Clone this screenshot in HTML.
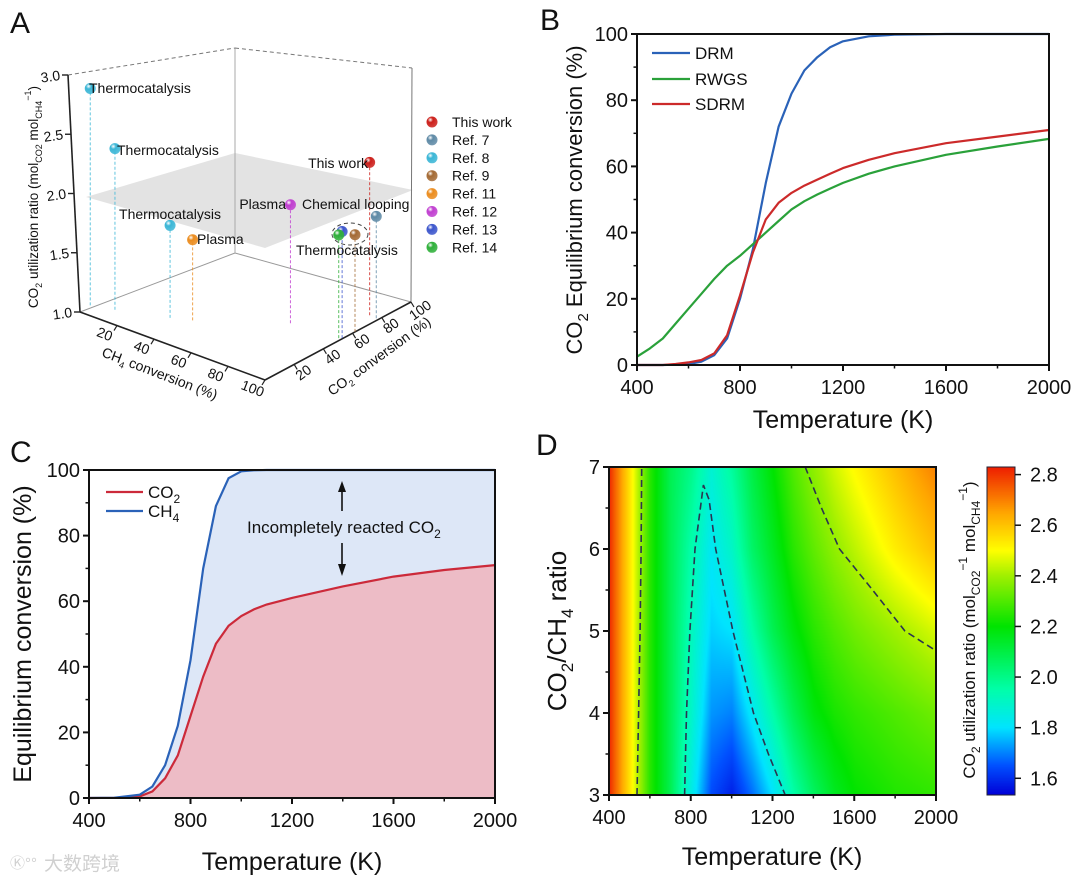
<!DOCTYPE html>
<html><head><meta charset="utf-8">
<style>
html,body{margin:0;padding:0;background:#fff;}
#wrap{position:relative;width:1080px;height:882px;overflow:hidden;font-family:"Liberation Sans",Arial,sans-serif;}
#heat{position:absolute;left:609px;top:467px;}
#cbar{position:absolute;left:987px;top:467px;}
#fig{position:absolute;left:0;top:0;}
text{font-family:"Liberation Sans","Noto Sans CJK SC",sans-serif;fill:#111;}
</style></head>
<body>
<div id="wrap">
<canvas id="heat" width="328" height="328"></canvas>
<canvas id="cbar" width="28" height="328"></canvas>
<svg id="fig" width="1080" height="882" xmlns="http://www.w3.org/2000/svg">
<defs id="defs"></defs>
<text x="10" y="33" font-size="30">A</text>
<text x="540" y="30" font-size="30">B</text>
<text x="10" y="462" font-size="30">C</text>
<text x="536" y="455" font-size="30">D</text>

<g id="panelA"></g>
<g id="panelB"></g>
<g id="panelC"></g>
<g id="panelD"></g>

<text transform="translate(38,197) rotate(-90)" text-anchor="middle" font-size="13.5">CO<tspan font-size="9" dy="4">2</tspan><tspan dy="-4"> utilization ratio (mol</tspan><tspan font-size="9" dy="4">CO2</tspan><tspan dy="-4"> mol</tspan><tspan font-size="9" dy="4">CH4</tspan><tspan font-size="9" dy="-11">−1</tspan><tspan dy="7">)</tspan></text>
<text transform="translate(158,378) rotate(21)" text-anchor="middle" font-size="14">CH<tspan font-size="9" dy="4">4</tspan><tspan dy="-4"> conversion (%)</tspan></text>
<text transform="translate(382,360) rotate(-36)" text-anchor="middle" font-size="14">CO<tspan font-size="9" dy="4">2</tspan><tspan dy="-4"> conversion (%)</tspan></text>

<text x="843" y="428" text-anchor="middle" font-size="25">Temperature (K)</text>
<text transform="translate(582,200) rotate(-90)" text-anchor="middle" font-size="22">CO<tspan font-size="15" dy="6">2</tspan><tspan dy="-6"> Equilibrium conversion (%)</tspan></text>

<text x="292" y="870" text-anchor="middle" font-size="25">Temperature (K)</text>
<text transform="translate(31,634) rotate(-90)" text-anchor="middle" font-size="25">Equilibrium conversion (%)</text>
<text x="247" y="533" font-size="17">Incompletely reacted CO<tspan font-size="12" dy="5">2</tspan></text>

<text x="772" y="865" text-anchor="middle" font-size="25">Temperature (K)</text>
<text transform="translate(566,631) rotate(-90)" text-anchor="middle" font-size="26">CO<tspan font-size="17" dy="7">2</tspan><tspan dy="-7">/CH</tspan><tspan font-size="17" dy="7">4</tspan><tspan dy="-7"> ratio</tspan></text>
<text transform="translate(975,630) rotate(-90)" text-anchor="middle" font-size="17">CO<tspan font-size="12" dy="5">2</tspan><tspan dy="-5"> utilization ratio (mol</tspan><tspan font-size="12" dy="5">CO2</tspan><tspan font-size="12" dy="-13">−1</tspan><tspan dy="8"> mol</tspan><tspan font-size="12" dy="5">CH4</tspan><tspan font-size="12" dy="-13">−1</tspan><tspan dy="8">)</tspan></text>

<text x="44" y="870" font-size="19" style="fill:#d0d0d0">大数跨境</text>
<text x="10" y="868" font-size="15" style="fill:#d0d0d0">Ⓚ°°</text>
</svg>
</div>
<script>
const NS='http://www.w3.org/2000/svg';
function mk(p,tag,a){const e=document.createElementNS(NS,tag);for(const k in a)e.setAttribute(k,a[k]);p.appendChild(e);return e;}

/* ===== Panel B data ===== */
const tempsB=[400,450,500,550,600,650,700,750,800,850,900,950,1000,1050,1100,1150,1200,1300,1400,1600,1800,2000];
const drmB  =[0,0,0,0.1,0.3,1,3,8,20,35,55,72,82,89,93,96,97.8,99.3,99.8,100,100,100];
const rwgsB =[2.5,5,8,12.5,17,21.5,26,30,33,36.5,40,43.5,47,49.5,51.5,53.3,55,57.8,60,63.5,66,68.3];
const sdrmB =[0,0,0,0.3,0.8,1.5,3.5,9,21,34,44,49,52,54.2,56,57.8,59.5,62,64,67,69,71];
const xTicksB=[400,800,1200,1600,2000];
const yTicksB=[0,20,40,60,80,100];

/* ===== Panel C data ===== */
const tempsC=[400,500,600,650,700,750,800,850,900,950,1000,1050,1100,1200,1400,1600,1800,2000];
const co2C =[0,0.05,0.5,2,6,13,25,37,47,52.5,55.5,57.5,59,61,64.5,67.5,69.5,71];
const ch4C =[0,0.1,1,3.5,10,22,42,70,89,97.5,99.6,99.9,100,100,100,100,100,100];
const xTicksC=[400,800,1200,1600,2000];
const yTicksC=[0,20,40,60,80,100];

/* ===== Panel D data ===== */
const tempsD=[400,500,600,700,800,900,1000,1100,1200,1300,1400,1500,1600,1700,1800,1900,2000];
const ratiosD=[3,4,5,6,7];
const utilD=[
 [2.82,2.55,2.25,2.08,1.85,1.64,1.58,1.68,1.8,1.95,2.06,2.15,2.2,2.22,2.24,2.25,2.26],
 [2.82,2.55,2.25,2.08,1.9,1.72,1.7,1.82,1.95,2.08,2.18,2.23,2.26,2.28,2.3,2.32,2.34],
 [2.82,2.55,2.25,2.08,1.92,1.78,1.8,1.95,2.08,2.18,2.25,2.3,2.34,2.37,2.4,2.43,2.46],
 [2.82,2.55,2.25,2.08,1.95,1.82,1.9,2.05,2.15,2.25,2.32,2.38,2.43,2.48,2.53,2.57,2.61],
 [2.82,2.55,2.25,2.08,2.0,1.88,1.97,2.1,2.2,2.3,2.38,2.45,2.51,2.56,2.61,2.66,2.7]];
const contourLeftT=[537,545,552,557,560];
const contourLeftR=[3,4,5,6,7];
const contourMidT=[770,779,796,821,862,890,922,1006,1107,1180,1262];
const contourMidR=[3,4,5,6,6.78,6.6,6,5,4,3.5,3];
const contourRightT=[1360,1440,1528,1690,1848,2000];
const contourRightR=[7,6.5,6,5.5,5,4.76];
const xTicksD=[400,800,1200,1600,2000];
const yTicksD=[3,4,5,6,7];
const cbTicks=[1.6,1.8,2.0,2.2,2.4,2.6,2.8];

/* ===== Panel A data ===== */
const refNames=['This work','Ref. 7','Ref. 8','Ref. 9','Ref. 11','Ref. 12','Ref. 13','Ref. 14'];
const refColors=['#cc1f1a','#5f8aa6','#3bb6d6','#a46a34','#eb8c1e','#c03fd0','#3c56cc','#2fb03a'];
const ptRef =[2,2,2,4,5,0,1,6,7,3];
const ptCH4 =[-2,8,29,37,66,82,86,91,90,90];
const ptCO2 =[9,13,23.5,28.5,57,89,88.5,60.5,59.5,70];
const ptZ   =[2.83,2.36,1.78,1.68,2.0,2.29,1.86,1.9,1.87,1.82];
const zTicksA=[1.0,1.5,2.0,2.5,3.0];
const ch4TicksA=[20,40,60,80,100];
const co2TicksA=[20,40,60,80,100];

function axes2d(g,pfx,X,Y,xd,yd,xt,yt,xminor,yminor){
  const x0=X(xd[0]),x1=X(xd[1]),y0=Y(yd[0]),y1=Y(yd[1]);
  const f=mk(g,'rect',{x:x0,y:y1,width:x1-x0,height:y0-y1,fill:'none',stroke:'#111','stroke-width':2});
  
  
  xt.forEach(t=>{
    const l=mk(g,'line',{x1:X(t),x2:X(t),y1:y0,y2:y0+6,stroke:'#111','stroke-width':2});
    
    
    const s=mk(g,'text',{x:X(t),y:y0+29,'text-anchor':'middle','font-size':20});
    s.textContent=t;
    
    
  });
  xminor.forEach(t=>{
    const l=mk(g,'line',{x1:X(t),x2:X(t),y1:y0,y2:y0+3.5,stroke:'#111','stroke-width':1.5});
    
    
  });
  yt.forEach(t=>{
    const l=mk(g,'line',{x1:x0-6,x2:x0,y1:Y(t),y2:Y(t),stroke:'#111','stroke-width':2});
    
    
    const s=mk(g,'text',{x:x0-9,y:Y(t)+7,'text-anchor':'end','font-size':20});
    s.textContent=t;
    
    
  });
  yminor.forEach(t=>{
    const l=mk(g,'line',{x1:x0-3.5,x2:x0,y1:Y(t),y2:Y(t),stroke:'#111','stroke-width':1.5});
    
    
  });
}
function pathD(xs,ys,X,Y){return xs.map((t,i)=>(i?'L':'M')+X(t).toFixed(1)+','+Y(ys[i]).toFixed(1)).join(' ');}

/* ===== Panel B ===== */
(function(){
  const g=document.getElementById('panelB');
  const X=t=>637+(t-400)/1600*412, Y=v=>365-v/100*331;
  const series=[[drmB,'#2a62b8','drm-line'],[rwgsB,'#2aa13a','rwgs-line'],[sdrmB,'#cc2a2a','sdrm-line']];
  series.forEach(s=>{
    const p=mk(g,'path',{d:pathD(tempsB,s[0],X,Y),fill:'none',stroke:s[1],'stroke-width':2.2,'stroke-linejoin':'round'});
    
    
  });
  axes2d(g,'b',X,Y,[400,2000],[0,100],xTicksB,yTicksB,[600,1000,1400,1800],[10,30,50,70,90]);
  const lg=[['DRM','#2a62b8',53],['RWGS','#2aa13a',79],['SDRM','#cc2a2a',104]];
  lg.forEach(l=>{
    const ln=mk(g,'line',{x1:652,x2:690,y1:l[2],y2:l[2],stroke:l[1],'stroke-width':2.2});
    
    
    const t=mk(g,'text',{x:695,y:l[2]+6,'font-size':17});
    t.textContent=l[0];
    
    
  });
})();

/* ===== Panel C ===== */
(function(){
  const g=document.getElementById('panelC');
  const X=t=>89+(t-400)/1600*406, Y=v=>798-v/100*328;
  let dBlue=pathD(tempsC,ch4C,X,Y)+' L'+X(2000)+','+Y(100);
  for(let i=tempsC.length-1;i>=0;i--) dBlue+=' L'+X(tempsC[i]).toFixed(1)+','+Y(co2C[i]).toFixed(1);
  const fb=mk(g,'path',{d:dBlue+' Z',fill:'#dde7f7'});
  
  
  const fr=mk(g,'path',{d:pathD(tempsC,co2C,X,Y)+' L'+X(2000)+','+Y(0)+' L'+X(400)+','+Y(0)+' Z',fill:'#edbcc6'});
  
  
  const lr=mk(g,'path',{d:pathD(tempsC,co2C,X,Y),fill:'none',stroke:'#cc2a3a','stroke-width':2.2});
  
  
  const lb=mk(g,'path',{d:pathD(tempsC,ch4C,X,Y),fill:'none',stroke:'#2a62b8','stroke-width':2.2});
  
  
  axes2d(g,'c',X,Y,[400,2000],[0,100],xTicksC,yTicksC,[600,1000,1400,1800],[10,30,50,70,90]);
  const lg=[['CO','2','#cc2a3a',492],['CH','4','#2a62b8',511]];
  lg.forEach(l=>{
    const ln=mk(g,'line',{x1:106,x2:143,y1:l[3],y2:l[3],stroke:l[2],'stroke-width':2.2});
    
    
    const t=mk(g,'text',{x:148,y:l[3]+6,'font-size':17});
    t.textContent=l[0];
    const sb=mk(t,'tspan',{'font-size':12,dy:5});
    sb.textContent=l[1];
    
    
  });
  const a1=mk(g,'line',{x1:342,x2:342,y1:511,y2:490,stroke:'#111','stroke-width':1.6});
  
  
  const h1=mk(g,'path',{d:'M338,492 L342,481 L346,492 Z',fill:'#111'});
  
  
  const a2=mk(g,'line',{x1:342,x2:342,y1:543,y2:566,stroke:'#111','stroke-width':1.6});
  
  
  const h2=mk(g,'path',{d:'M338,564 L342,576 L346,564 Z',fill:'#111'});
  
  
})();

/* ===== Panel D ===== */
const cmapStops=[[1.534,[0,0,215]],[1.65,[0,80,255]],[1.8,[0,228,255]],[1.95,[0,255,170]],[2.2,[0,228,0]],[2.4,[160,240,0]],[2.5,[255,255,0]],[2.65,[255,165,0]],[2.83,[238,30,0]]];
function cmap(v){
  if(v<=cmapStops[0][0])return cmapStops[0][1];
  for(let i=1;i<cmapStops.length;i++){if(v<=cmapStops[i][0]){const a=cmapStops[i-1],b=cmapStops[i],f=(v-a[0])/(b[0]-a[0]);return a[1].map((c,k)=>c+(b[1][k]-c)*f);}}
  return cmapStops[cmapStops.length-1][1];
}
(function(){
  const g=document.getElementById('panelD');
  const X=t=>609+(t-400)/1600*327, Y=r=>795-(r-3)/4*328;
  const cv=document.getElementById('heat'),ctx=cv.getContext('2d'),W=cv.width,H=cv.height;
  const img=ctx.createImageData(W,H);
  for(let py=0;py<H;py++){
    const r=7-(py+0.5)/H*4; let ri=Math.min(ratiosD.length-2,Math.floor((r-ratiosD[0])/(ratiosD[1]-ratiosD[0]))); ri=Math.max(0,ri);
    const fr=(r-ratiosD[ri])/(ratiosD[ri+1]-ratiosD[ri]);
    for(let px=0;px<W;px++){
      const t=400+(px+0.5)/W*1600; let ti=Math.min(tempsD.length-2,Math.floor((t-400)/100)); ti=Math.max(0,ti);
      const ft=(t-tempsD[ti])/(tempsD[ti+1]-tempsD[ti]);
      const v=(utilD[ri][ti]*(1-ft)+utilD[ri][ti+1]*ft)*(1-fr)+(utilD[ri+1][ti]*(1-ft)+utilD[ri+1][ti+1]*ft)*fr;
      const c=cmap(v),o=(py*W+px)*4;
      img.data[o]=c[0];img.data[o+1]=c[1];img.data[o+2]=c[2];img.data[o+3]=255;
    }
  }
  ctx.putImageData(img,0,0);
  const cb=document.getElementById('cbar'),c2=cb.getContext('2d');
  for(let py=0;py<cb.height;py++){const v=2.83-(py+0.5)/cb.height*(2.83-1.534);const c=cmap(v);c2.fillStyle='rgb('+c.map(Math.round).join(',')+')';c2.fillRect(0,py,cb.width,1);}
  [[contourLeftT,contourLeftR,'contour-left'],[contourMidT,contourMidR,'contour-middle'],[contourRightT,contourRightR,'contour-right']].forEach(c=>{
    const p=mk(g,'path',{d:pathD(c[0],c[1],X,Y),fill:'none',stroke:'#2b3450','stroke-width':1.6,'stroke-dasharray':'7 4'});
    
    
  });
  axes2d(g,'d',X,Y,[400,2000],[3,7],xTicksD,yTicksD,[600,1000,1400,1800],[3.5,4.5,5.5,6.5]);
  const CY=v=>795-(v-1.534)/(2.83-1.534)*328;
  const cf=mk(g,'rect',{x:987,y:467,width:28,height:328,fill:'none',stroke:'#223','stroke-width':1});
  
  
  cbTicks.forEach(v=>{
    const l=mk(g,'line',{x1:1015,x2:1021,y1:CY(v),y2:CY(v),stroke:'#111','stroke-width':1.5});
    
    
    const s=mk(g,'text',{x:1030,y:CY(v)+7,'font-size':20});
    s.textContent=v.toFixed(1);
    
    
  });
})();

/* ===== Panel A (3D scatter) ===== */
(function(){
  const g=document.getElementById('panelA'),defs=document.getElementById('defs');
  const O=[80,312],U=[1.85,0.68],V=[1.55,-0.59],ZS=118.5;
  const P=(a,b,z)=>[O[0]+a*U[0]+b*V[0],O[1]+a*U[1]+b*V[1]-(z-1)*ZS];
  refColors.forEach((c,i)=>{
    const rg=mk(defs,'radialGradient',{id:'sph'+i,cx:'35%',cy:'30%',r:'70%'});
    mk(rg,'stop',{offset:'0%','stop-color':'#ffffff'});
    mk(rg,'stop',{offset:'35%','stop-color':c});
    mk(rg,'stop',{offset:'100%','stop-color':c,'stop-opacity':'0.85'});
  });
  const L0=[80,312],F0=[265,380],R0=[411,302],B0=[235,253];
  const L1=[68,75],B1=[235,48],R1=[412,68];
  const plane=mk(g,'polygon',{points:'86,197 235,153 413,190 265,248',fill:'#d9d9d9','fill-opacity':0.75});
  
  
  const edges=[[L0,B0,'#999','none','back-bottom-left-edge'],[B0,R0,'#999','none','back-bottom-right-edge'],[B0,B1,'#aaa','none','back-vertical-edge'],[R0,R1,'#777','none','right-vertical-edge'],
    [L1,B1,'#777','4 3','top-left-edge'],[B1,R1,'#777','4 3','top-right-edge'],[L0,L1,'#222','none','z-axis-line'],[L0,F0,'#222','none','ch4-axis-line'],[F0,R0,'#222','none','co2-axis-line']];
  edges.forEach(e=>{
    const l=mk(g,'line',{x1:e[0][0],y1:e[0][1],x2:e[1][0],y2:e[1][1],stroke:e[2],'stroke-width':e[2]=='#222'?1.6:1,'stroke-dasharray':e[3]});
    
    
  });
  zTicksA.forEach(z=>{
    const f=(z-1)/2, p=[L0[0]+(L1[0]-L0[0])*f, L0[1]+(L1[1]-L0[1])*f];
    const l=mk(g,'line',{x1:p[0]-6,x2:p[0],y1:p[1],y2:p[1],stroke:'#222','stroke-width':1.4});
    
    
    const t=mk(g,'text',{x:p[0]-8,y:p[1]+5,'text-anchor':'end','font-size':14,transform:'rotate(-8 '+(p[0]-8)+' '+p[1]+')'});
    t.textContent=z.toFixed(1);
    
    
  });
  ch4TicksA.forEach(a=>{
    const f=a/100, p=[L0[0]+(F0[0]-L0[0])*f, L0[1]+(F0[1]-L0[1])*f];
    const l=mk(g,'line',{x1:p[0],x2:p[0]-3,y1:p[1],y2:p[1]+5,stroke:'#222','stroke-width':1.2});
    
    
    const t=mk(g,'text',{x:p[0]-14,y:p[1]+13,'text-anchor':'middle','font-size':14,transform:'rotate(21 '+(p[0]-14)+' '+(p[1]+13)+')'});
    t.textContent=a;
    
    
  });
  co2TicksA.forEach(b=>{
    const f=b/100, p=[F0[0]+(R0[0]-F0[0])*f, F0[1]+(R0[1]-F0[1])*f];
    const l=mk(g,'line',{x1:p[0],x2:p[0]+3,y1:p[1],y2:p[1]+5,stroke:'#222','stroke-width':1.2});
    
    
    const t=mk(g,'text',{x:p[0]+12,y:p[1]+12,'text-anchor':'middle','font-size':14,transform:'rotate(-36 '+(p[0]+12)+' '+(p[1]+12)+')'});
    t.textContent=b;
    
    
  });
  ptCH4.forEach((a,i)=>{
    const top=P(a,ptCO2[i],ptZ[i]),bot=P(a,ptCO2[i],1);
    const l=mk(g,'line',{x1:bot[0],y1:bot[1],x2:top[0],y2:top[1],stroke:refColors[ptRef[i]],'stroke-width':1,'stroke-dasharray':'3 2','stroke-opacity':0.8});
    
    
  });
  ptCH4.forEach((a,i)=>{
    const top=P(a,ptCO2[i],ptZ[i]);
    const c=mk(g,'circle',{cx:top[0],cy:top[1],r:5.5,fill:'url(#sph'+ptRef[i]+')'});
    
    
  });
  const ell=mk(g,'ellipse',{cx:350,cy:234,rx:18,ry:11,fill:'none',stroke:'#444','stroke-width':1,'stroke-dasharray':'4 3'});
  
  
  const labs=[['Thermocatalysis',89,93,'start'],['Thermocatalysis',117,155,'start'],['Thermocatalysis',170,219,'middle'],['Plasma',197,244,'start'],['Plasma',286,209,'end'],['Chemical looping',302,209,'start'],['This work',368,168,'end'],['Thermocatalysis',296,255,'start']];
  labs.forEach(l=>{
    const t=mk(g,'text',{x:l[1],y:l[2],'text-anchor':l[3],'font-size':14});
    t.textContent=l[0];
    
    
  });
  refNames.forEach((n,i)=>{
    const y=122+i*17.9;
    const c=mk(g,'circle',{cx:432,cy:y,r:5.5,fill:'url(#sph'+i+')'});
    
    
    const t=mk(g,'text',{x:452,y:y+5,'font-size':14});
    t.textContent=n;
    
    
  });
})();
</script>
</body></html>
